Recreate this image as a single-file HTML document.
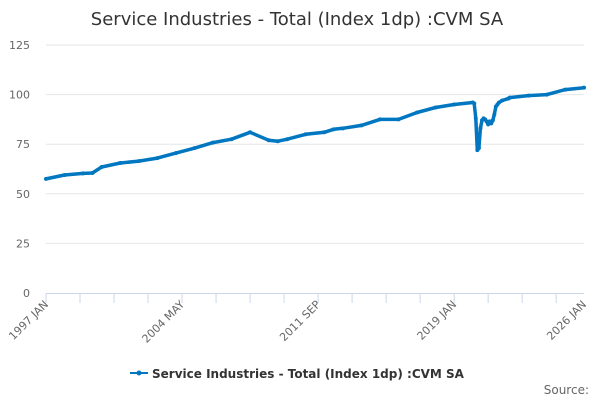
<!DOCTYPE html>
<html><head><meta charset="utf-8"><style>
body{margin:0;background:#fff;font-family:"Liberation Sans","DejaVu Sans",sans-serif}
svg text{font-family:"DejaVu Sans","Liberation Sans",sans-serif}
</style></head><body>
<svg id="c" width="600" height="400">
<text x="297" y="25" text-anchor="middle" font-size="18" fill="#333">Service Industries - Total (Index 1dp) :CVM SA</text>
<g id="grid"></g><g id="axes"></g><g id="series"></g>
<g>
<line x1="130" y1="373" x2="148" y2="373" stroke="#0077c0" stroke-width="2"/>
<circle cx="139" cy="373" r="2.5" fill="#0077c0"/>
<text x="152" y="378" font-size="12" font-weight="bold" fill="#333">Service Industries - Total (Index 1dp) :CVM SA</text>
</g>
<text x="589" y="394" text-anchor="end" font-size="12" fill="#666">Source:</text>
</svg>
<script>
const months=[0,12,24,30,36,48,60,72,84,96,108,120,132,144,150,156,168,180,186,192,204,216,228,240,252,264,276,277,278,279,280,281,282,283,284,285,286,287,288,289,290,291,292,293,295,299,300,312,324,336,348];
const values=[57.5,59.5,60.3,60.5,63.5,65.5,66.5,68,70.5,73,75.8,77.5,81,77,76.5,77.5,80,81,82.5,83,84.5,87.5,87.5,91,93.5,95,96,95.5,88,72,73,83,87,88,87.5,86.5,85,86.5,85.5,87,90,94,95,96,97,98,98.5,99.5,100,102.5,103.5];
const yTicks=[0,25,50,75,100,125];
const xTickLabels=["1997 JAN","2004 MAY","2011 SEP","2019 JAN","2026 JAN"];
const xTickMonths=[0,88,176,264,348];
const NS="http://www.w3.org/2000/svg";
const X=m=>46+m*(538/348), Y=v=>293-v*(248/125);
const g=document.getElementById('grid'),a=document.getElementById('axes'),s=document.getElementById('series');
function mk(t,at,p){const e=document.createElementNS(NS,t);for(const k in at)e.setAttribute(k,at[k]);p.appendChild(e);return e;}
yTicks.forEach(v=>{
 if(v>0){const l=mk('line',{x1:46,x2:584,y1:Y(v),y2:Y(v),stroke:'#e6e6e6'},g);
 
 }
 const t=mk('text',{x:30,y:Y(v)+4,'text-anchor':'end','font-size':11,fill:'#666'},a);t.textContent=v;
 
 
});
const ax=mk('line',{x1:46,x2:584,y1:293.5,y2:293.5,stroke:'#ccd6eb'},a);


for(let m=0;m<=348;m+=22){const tk=mk('line',{x1:X(m),x2:X(m),y1:293,y2:303,stroke:'#ccd6eb'},a);
 
 }
xTickLabels.forEach((lb,i)=>{const x=X(xTickMonths[i]);
 const t=mk('text',{x:x+3,y:305,'text-anchor':'end','font-size':11,fill:'#666',transform:`rotate(-45 ${x+3} 305)`},a);t.textContent=lb;
 
 });
const d=months.map((m,i)=>(i?'L':'M')+X(m).toFixed(1)+','+Y(values[i]).toFixed(1)).join('');
const p=mk('path',{d:d,fill:'none',stroke:'#0077c0','stroke-width':3.5,'stroke-linejoin':'round','stroke-linecap':'round'},s);


months.forEach((m,i)=>{const c=mk('circle',{cx:X(m),cy:Y(values[i]),r:2,fill:'#0077c0'},s);
 
 });
</script>
</body></html>
